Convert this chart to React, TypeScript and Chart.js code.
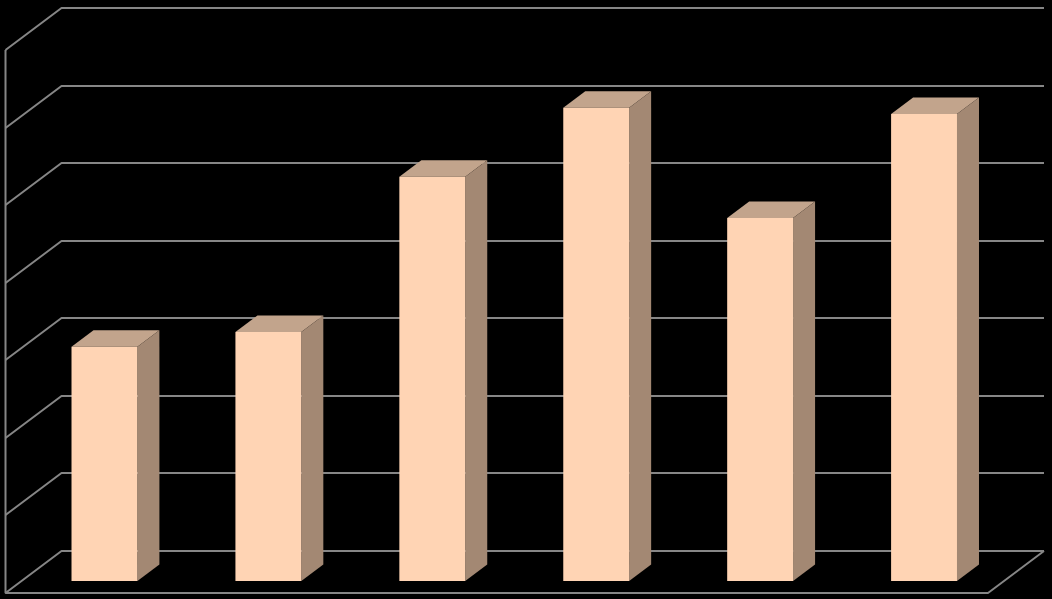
import React, { useEffect, useRef } from "react";
import { Chart, registerables } from "chart.js";

Chart.register(...registerables);

const categories = ["1", "2", "3", "4", "5", "6"];
const values = [3.02, 3.21, 5.21, 6.1, 4.68, 6.02];
const gridTicks = [0, 1, 2, 3, 4, 5, 6, 7];

const FRONT = "#FFD4B4";
const TOP = "#C2A48C";
const SIDE = "#A38873";
const GRID = "#868686";

// Projection offsets of the 3D box, in pixels
const BAR_DX = 22;
const BAR_DY = 16.5;
const WALL_DX = 56;
const WALL_DY = 42;
const BACK_LEFT_SHIFT = 39;
const BACK_RIGHT_SHIFT = 38;
const BACK_SHIFT_Y = -30;

const box3d = {
  id: "box3d",
  beforeDatasetsDraw(chart: any) {
    const { ctx, scales, chartArea } = chart;
    const y = scales.y;
    const backLeft = chartArea.left + BACK_LEFT_SHIFT;
    const backRight = chartArea.right + BACK_RIGHT_SHIFT;
    ctx.save();
    ctx.strokeStyle = GRID;
    ctx.lineWidth = 2;
    ctx.lineJoin = "bevel";
    const back = (v: number) => Math.round(y.getPixelForValue(v) + BACK_SHIFT_Y);
    const front = (v: number) => back(v) + WALL_DY;
    gridTicks.forEach((t) => {
      ctx.beginPath();
      ctx.moveTo(backLeft - WALL_DX, front(t));
      ctx.lineTo(backLeft, back(t));
      ctx.lineTo(backRight, back(t));
      ctx.stroke();
    });
    // left wall edge and floor front edge
    ctx.beginPath();
    ctx.moveTo(backLeft - WALL_DX, front(gridTicks[gridTicks.length - 1]));
    ctx.lineTo(backLeft - WALL_DX, front(0));
    ctx.lineTo(backRight - WALL_DX, front(0));
    ctx.lineTo(backRight, back(0));
    ctx.stroke();

    // tops and sides of the bars
    const meta = chart.getDatasetMeta(0);
    meta.data.forEach((bar: any) => {
      const l = bar.x - bar.width / 2;
      const r = bar.x + bar.width / 2;
      const t = bar.y;
      const b = bar.base;
      ctx.fillStyle = TOP;
      ctx.beginPath();
      ctx.moveTo(l, t);
      ctx.lineTo(l + BAR_DX, t - BAR_DY);
      ctx.lineTo(r + BAR_DX, t - BAR_DY);
      ctx.lineTo(r, t);
      ctx.closePath();
      ctx.fill();
      ctx.fillStyle = SIDE;
      ctx.beginPath();
      ctx.moveTo(r, t);
      ctx.lineTo(r + BAR_DX, t - BAR_DY);
      ctx.lineTo(r + BAR_DX, b - BAR_DY);
      ctx.lineTo(r, b);
      ctx.closePath();
      ctx.fill();
    });
    ctx.restore();
  },
};

export default function App() {
  const ref = useRef<HTMLCanvasElement | null>(null);

  useEffect(() => {
    document.body.style.margin = "0";
    document.body.style.background = "#000";
    const chart = new Chart(ref.current as HTMLCanvasElement, {
      type: "bar",
      data: {
        labels: categories,
        datasets: [
          {
            data: values,
            backgroundColor: FRONT,
            borderWidth: 0,
            barPercentage: 0.402,
            categoryPercentage: 1,
          },
        ],
      },
      options: {
        responsive: false,
        animation: false,
        devicePixelRatio: 1,
        layout: { padding: { left: 22.5, right: 46, top: 38, bottom: 18 } },
        plugins: { legend: { display: false }, tooltip: { enabled: false } },
        scales: {
          x: { display: false },
          y: { display: false, min: 0, max: 7 },
        },
      },
      plugins: [box3d],
    } as any);
    return () => chart.destroy();
  }, []);

  return (
    <canvas
      ref={ref}
      width={1052}
      height={599}
      style={{ display: "block", width: 1052, height: 599, background: "#000" }}
    />
  );
}
